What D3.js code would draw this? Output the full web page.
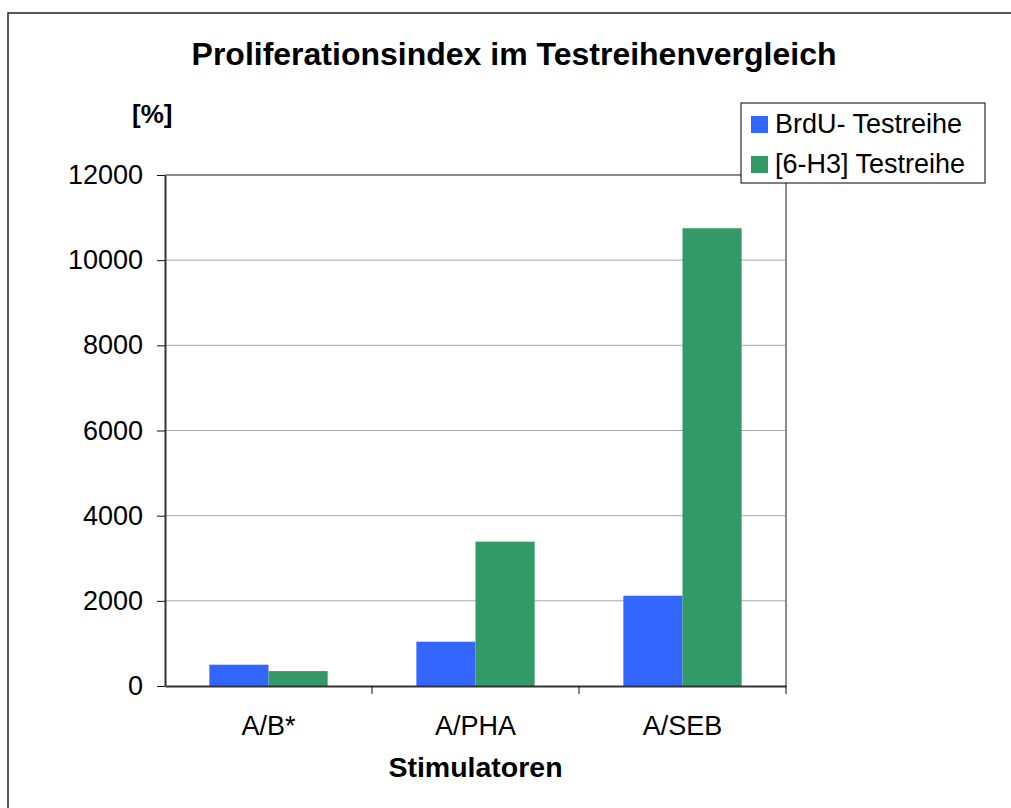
<!DOCTYPE html>
<html lang="de">
<head>
<meta charset="UTF-8">
<title>Proliferationsindex im Testreihenvergleich</title>
<style>
  body { margin: 0; background: #fff; overflow: hidden; }
  svg { display: block; font-family: 'Liberation Sans', Arial, sans-serif; }
</style>
</head>
<body>
<svg id="chart" width="1011" height="808"></svg>
<script src="https://cdn.jsdelivr.net/npm/d3@7"></script>
<script>
// data
var categories = ['A/B*', 'A/PHA', 'A/SEB'];
var seriesNames = ['BrdU- Testreihe', '[6-H3] Testreihe'];
var brdu = [500, 1040, 2120];
var h3 = [350, 3390, 10750];
var yTicks = [0, 2000, 4000, 6000, 8000, 10000, 12000];
var colors = ['#3366ff', '#339966'];

var svg = d3.select('#chart');
var plotL = 165, plotR = 786, plotT = 175, plotB = 686;

// outer frame: only top and left edges are inside the picture
svg.append('path').attr('d', 'M8,820V13H1020')
  .attr('fill', 'none').attr('stroke', '#222').attr('stroke-width', 1.5);

var x = d3.scaleBand().domain(categories).range([plotL, plotR]);
// gap width 150% -> each group = 2 bars + 1.5 bar widths of gap
var gap = x.bandwidth() * 0.75 / 3.5;
var x1 = d3.scaleBand().domain([0, 1]).range([gap, x.bandwidth() - gap]);
var y = d3.scaleLinear().domain([0, 12000]).range([plotB, plotT]);

// gridlines
svg.append('g').selectAll('line').data(yTicks.filter(function(d) { return d > 0 && d < 12000; }))
  .join('line')
  .attr('x1', plotL).attr('x2', plotR)
  .attr('y1', function(d) { return y(d); }).attr('y2', function(d) { return y(d); })
  .attr('stroke', '#a6a6a6').attr('stroke-width', 1);

// plot area border (top and right)
svg.append('path')
  .attr('d', 'M' + plotL + ',' + y(12000) + 'H' + plotR + 'V' + plotB)
  .attr('fill', 'none').attr('stroke', '#8c8c8c').attr('stroke-width', 2);

// bars
var rows = categories.map(function(c, i) { return { cat: c, vals: [brdu[i], h3[i]] }; });
svg.append('g').selectAll('g').data(rows).join('g')
  .attr('transform', function(d) { return 'translate(' + x(d.cat) + ',0)'; })
  .selectAll('rect').data(function(d) { return d.vals.map(function(v, k) { return { k: k, v: v }; }); })
  .join('rect')
  .attr('x', function(d) { return x1(d.k); })
  .attr('width', x1.bandwidth())
  .attr('y', function(d) { return y(d.v); })
  .attr('height', function(d) { return y(0) - y(d.v); })
  .attr('fill', function(d) { return colors[d.k]; });

// y axis
var yAxis = svg.append('g').attr('transform', 'translate(' + plotL + ',0)')
  .call(d3.axisLeft(y).tickValues(yTicks).tickSize(8).tickSizeOuter(0).tickPadding(14).tickFormat(d3.format('d')));
yAxis.select('.domain').attr('stroke', '#333').attr('stroke-width', 2);
yAxis.selectAll('.tick line').attr('stroke', '#111');
yAxis.selectAll('text').attr('font-size', 27).attr('fill', '#000').attr('font-family', "'Liberation Sans', Arial, sans-serif");

// x axis
var xAxis = svg.append('g').attr('transform', 'translate(0,' + plotB + ')')
  .call(d3.axisBottom(x).tickSize(0).tickSizeOuter(0).tickPadding(30));
xAxis.select('.domain').attr('stroke', '#333').attr('stroke-width', 2);
xAxis.selectAll('text').attr('font-size', 27).attr('fill', '#000').attr('font-family', "'Liberation Sans', Arial, sans-serif");
xAxis.selectAll('line.sep').data(categories).join('line').attr('class', 'sep')
  .attr('x1', function(d) { return x(d) + x.bandwidth(); })
  .attr('x2', function(d) { return x(d) + x.bandwidth(); })
  .attr('y1', 0).attr('y2', 8).attr('stroke', '#111');

// titles
svg.append('text').attr('x', 514).attr('y', 65).attr('text-anchor', 'middle')
  .attr('font-size', 32).attr('font-weight', 'bold').text('Proliferationsindex im Testreihenvergleich');
svg.append('text').attr('x', 132).attr('y', 123).attr('font-size', 26).attr('font-weight', 'bold').text('[%]');
svg.append('text').attr('x', (plotL + plotR) / 2).attr('y', 777).attr('text-anchor', 'middle')
  .attr('font-size', 28.5).attr('font-weight', 'bold').text('Stimulatoren');

// legend
var lg = svg.append('g').attr('transform', 'translate(741,103)');
lg.append('rect').attr('width', 244).attr('height', 80).attr('fill', '#fff').attr('stroke', '#000').attr('stroke-width', 1);
var item = lg.selectAll('g').data(seriesNames).join('g')
  .attr('transform', function(d, i) { return 'translate(10,' + (13 + i * 40) + ')'; });
item.append('rect').attr('width', 17).attr('height', 17).attr('fill', function(d, i) { return colors[i]; });
item.append('text').attr('x', 24).attr('y', 16.5).attr('font-size', 27).text(function(d) { return d; });
</script>
</body>
</html>
